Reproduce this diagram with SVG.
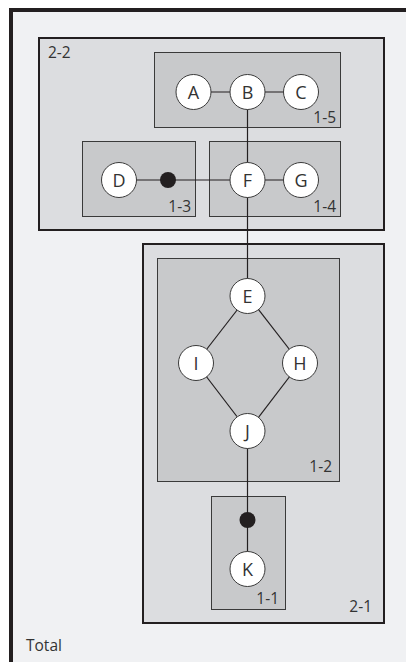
<svg xmlns="http://www.w3.org/2000/svg" width="406" height="662" viewBox="0 0 406 662">
<style>
.frame{fill:#dcdde0;stroke:#231f20;stroke-width:2}
.box{fill:#c8c9cb;stroke:#3a3a3a;stroke-width:1}
.node circle{fill:#fff;stroke:#3a3a3a;stroke-width:1}
.dot{fill:#231f20}
text{font-family:"Open Sans","Noto Sans",sans-serif;fill:#333}
.nl{font-size:18px;text-anchor:middle}
.lbl{font-size:15.5px}
.r{text-anchor:end}
.edges line{stroke:#231f20;stroke-width:1.2}
</style>
<rect x="0" y="0" width="406" height="662" fill="#fff"/>
<g id="total">
<rect x="11" y="10" width="400" height="660" fill="#f0f1f3" stroke="#231f20" stroke-width="4"/>
<text class="lbl" x="26" y="651">Total</text>
</g>
<g id="group-2-2">
<rect class="frame" x="39" y="38" width="345" height="192"/>
<text class="lbl" x="48" y="58">2-2</text>
</g>
<g id="group-2-1">
<rect class="frame" x="143" y="244" width="241" height="379"/>
<text class="lbl r" x="372" y="612">2-1</text>
</g>
<g id="group-1-5">
<rect class="box" x="154.5" y="52.5" width="186" height="75"/>
<text class="lbl r" x="336" y="123">1-5</text>
</g>
<g id="group-1-3">
<rect class="box" x="82.5" y="141.5" width="113" height="75"/>
<text class="lbl r" x="191" y="212">1-3</text>
</g>
<g id="group-1-4">
<rect class="box" x="209.5" y="141.5" width="131" height="75"/>
<text class="lbl r" x="336" y="212">1-4</text>
</g>
<g id="group-1-2">
<rect class="box" x="157.5" y="258.5" width="182" height="223"/>
<text class="lbl r" x="332" y="472">1-2</text>
</g>
<g id="group-1-1">
<rect class="box" x="211.5" y="496.5" width="74" height="113"/>
<text class="lbl r" x="279" y="604">1-1</text>
</g>
<g class="edges" id="connectors">
<line x1="193.5" y1="92" x2="301" y2="92"/>
<line x1="247.5" y1="92" x2="247.5" y2="296"/>
<line x1="119" y1="180" x2="301" y2="180"/>
<line x1="248" y1="296" x2="196" y2="363"/>
<line x1="248" y1="296" x2="300" y2="363"/>
<line x1="196" y1="363" x2="248" y2="431"/>
<line x1="300" y1="363" x2="248" y2="431"/>
<line x1="247.5" y1="431" x2="247.5" y2="569"/>
</g>
<g id="junction-1"><circle class="dot" cx="168" cy="180" r="8"/></g>
<g id="junction-2"><circle class="dot" cx="247.5" cy="520" r="8"/></g>
<g class="node" id="node-A"><circle cx="193.5" cy="92" r="17.5"/><text class="nl" x="193.5" y="98.5">A</text></g>
<g class="node" id="node-B"><circle cx="247.5" cy="92" r="17.5"/><text class="nl" x="247.5" y="98.5">B</text></g>
<g class="node" id="node-C"><circle cx="301" cy="92" r="17.5"/><text class="nl" x="301" y="98.5">C</text></g>
<g class="node" id="node-D"><circle cx="119" cy="180" r="17.5"/><text class="nl" x="119" y="186.5">D</text></g>
<g class="node" id="node-F"><circle cx="247.5" cy="180" r="17.5"/><text class="nl" x="247.5" y="186.5">F</text></g>
<g class="node" id="node-G"><circle cx="301" cy="180" r="17.5"/><text class="nl" x="301" y="186.5">G</text></g>
<g class="node" id="node-E"><circle cx="247.5" cy="296" r="17.5"/><text class="nl" x="247.5" y="302.5">E</text></g>
<g class="node" id="node-I"><circle cx="196" cy="363" r="17.5"/><text class="nl" x="196" y="369.5">I</text></g>
<g class="node" id="node-H"><circle cx="300" cy="363" r="17.5"/><text class="nl" x="300" y="369.5">H</text></g>
<g class="node" id="node-J"><circle cx="247.5" cy="431" r="17.5"/><text class="nl" x="247.5" y="437.5">J</text></g>
<g class="node" id="node-K"><circle cx="247.5" cy="569" r="17.5"/><text class="nl" x="247.5" y="575.5">K</text></g>
</svg>
